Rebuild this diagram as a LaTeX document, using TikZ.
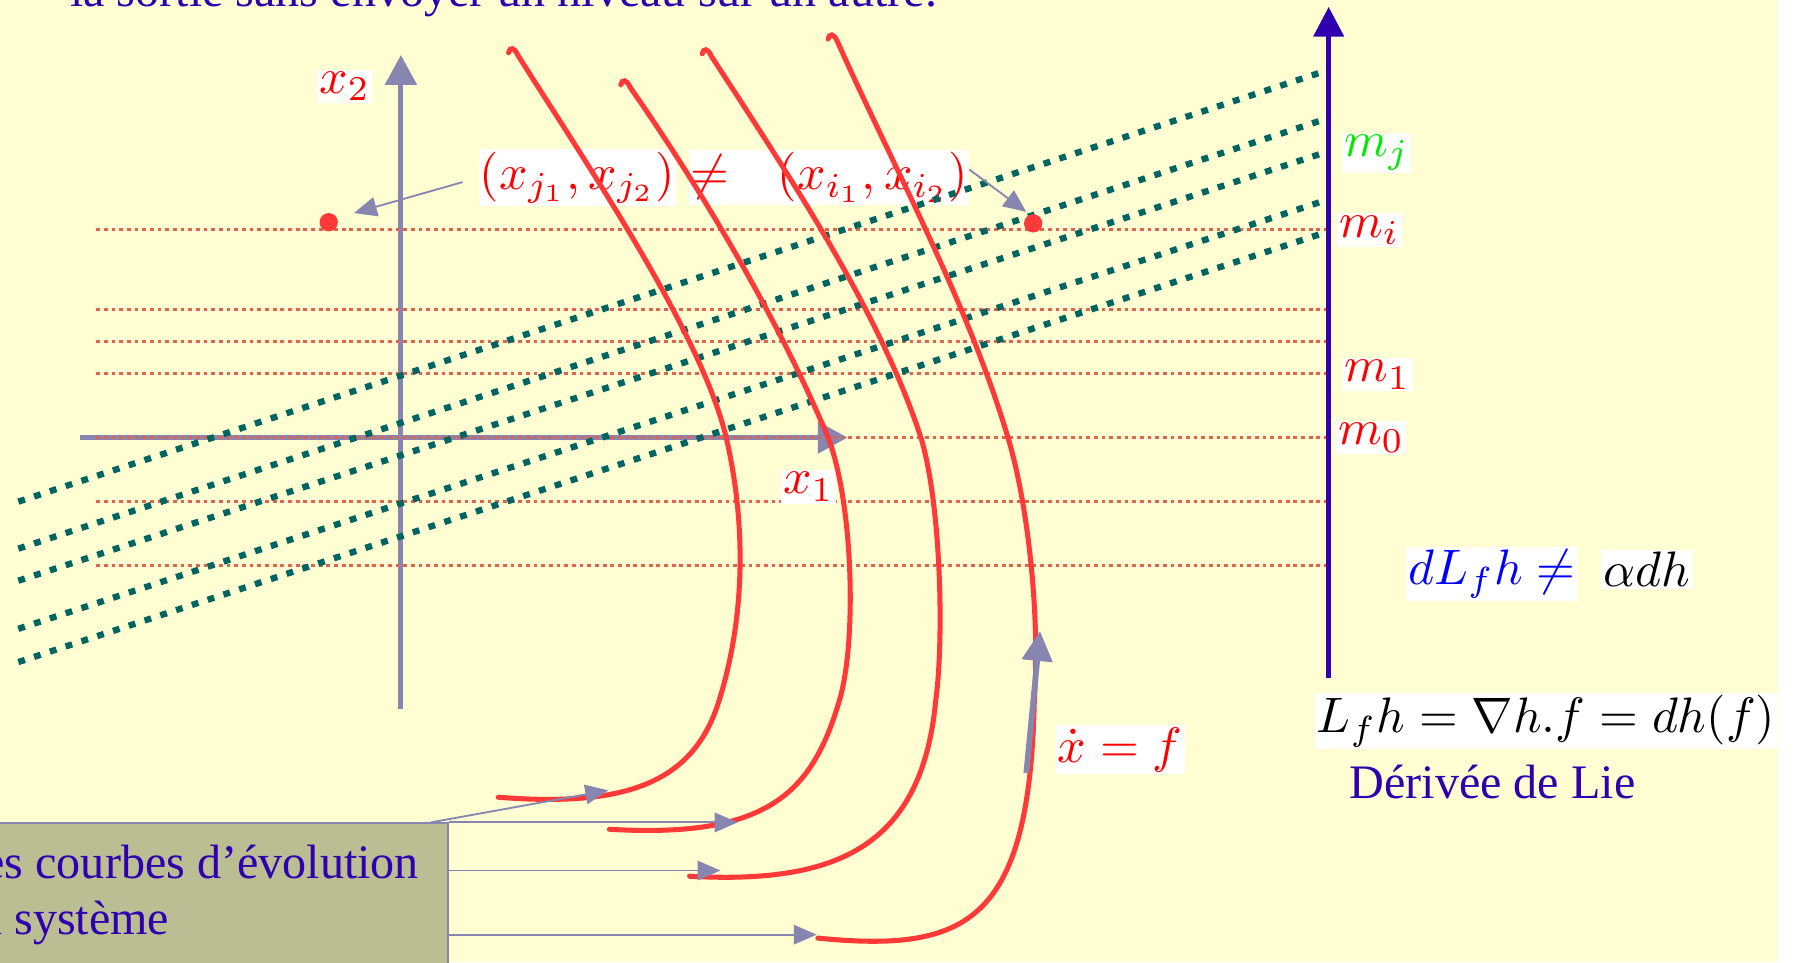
\documentclass[tikz,border=0pt]{standalone}
\usepackage[no-math]{fontspec}
\setmainfont{Liberation Serif}
\usepackage{graphicx}
\usetikzlibrary{arrows.meta}
\definecolor{bgyellow}{RGB}{254,254,210}
\definecolor{axisgray}{RGB}{134,134,176}
\definecolor{curvered}{RGB}{255,56,56}
\definecolor{dotred}{RGB}{226,98,80}
\definecolor{levelgreen}{RGB}{0,100,96}
\definecolor{indigo}{RGB}{46,0,176}
\definecolor{olivebox}{RGB}{187,189,146}
\definecolor{brightgreen}{RGB}{0,235,0}
\newcommand{\lmath}[1]{\scalebox{4.35}{$#1$}}
\newcommand{\myslidesize}{\fontsize{42}{50}\selectfont}
\tikzset{
  axisline/.style={draw=axisgray, line width=4.5pt, -{Triangle[length=26pt,width=27pt]}},
  levelline/.style={draw=dotred, line width=2.5pt, dash pattern=on 3.3pt off 3.4pt},
  slantline/.style={draw=levelgreen, line width=5.5pt, dash pattern=on 6pt off 8.5pt},
  traj/.style={draw=curvered, line width=4.4pt, line cap=round},
  lblarrow/.style={draw=axisgray, line width=1.6pt, -{Triangle[length=20pt,width=17pt]}},
  lbl/.style={fill=white, inner sep=2pt},
  slidetext/.style={text=indigo, font=\myslidesize, inner sep=0pt},
  reddot/.style={circle, fill=curvered, minimum size=16pt, inner sep=0pt},
}
\begin{document}
\begin{tikzpicture}[x=1pt,y=-1pt]
\useasboundingbox (0,0) rectangle (1568,840);
\clip (0,0) rectangle (1568,840);
\fill[white] (0,0) rectangle (1568,840);
\fill[bgyellow] (0,0) rectangle (1552,840);

% top text (clipped)
\node[slidetext, anchor=base west] (toptext) at (61,6) {la sortie sans envoyer un niveau sur un autre.};

% axes
\draw[axisline] (350,619) -- (350,48);
\draw[axisline] (70,382) -- (740,382);

% level lines
\foreach \yy in {200,270,298,326,382,438,494}
  \draw[levelline] (84,\yy) -- (1160,\yy);

% labels (white boxes)
\node[lbl, text=red] (lx2) at (301,75.5) {\lmath{x_2}};
\node[lbl, text=red] (lx1) at (706,425) {\lmath{x_1}};
\node[lbl, text=red, inner xsep=1pt] (xj) at (504,155) {\lmath{(x_{j_1},x_{j_2})}};
\node[lbl, text=red, inner xsep=1pt] (xi) at (724,155) {\lmath{\neq\hspace{0.7em}(x_{i_1},x_{i_2})}};

% slanted level lines
\draw[slantline] (16,438) -- (1160,61);
\draw[slantline] (16,479) -- (1160,103);
\draw[slantline] (16,507) -- (1160,132);
\draw[slantline] (16,549) -- (1160,174);
\draw[slantline] (16,578) -- (1160,202);

% trajectories
\draw[traj] (444,46) .. controls (445,41) and (449,41) .. (452,48)
  .. controls (512,143) and (612,290) .. (634,382)
  .. controls (652,460) and (650,540) .. (628,611)
  .. controls (606,683) and (548,705) .. (435,696);
\draw[traj] (542,74) .. controls (543,69) and (547,69) .. (550,76)
  .. controls (615,169) and (682,284) .. (723,382)
  .. controls (745,440) and (748,560) .. (733,611)
  .. controls (709,693) and (670,732) .. (532,724);
\draw[traj] (613,47) .. controls (614,42) and (618,42) .. (621,49)
  .. controls (690,155) and (768,272) .. (804,382)
  .. controls (822,442) and (824,560) .. (817,611)
  .. controls (805,740) and (730,772) .. (602,765);
\draw[traj] (723,34) .. controls (724,29) and (728,29) .. (731,36)
  .. controls (781,148) and (844,262) .. (880,382)
  .. controls (898,442) and (908,540) .. (903,611)
  .. controls (899,805) and (845,832) .. (714,819);

% points
\node[reddot] (pj) at (287,194) {};
\node[reddot] (pi) at (902,195) {};
\coordinate (tipj) at (309,186);
\coordinate (tipi) at (896,185);
\draw[lblarrow] ([xshift=-14pt,yshift=-4pt]xj.west) -- (tipj);
\draw[lblarrow] ([yshift=7pt]xi.east) -- (tipi);

% output axis
\draw[draw=indigo, line width=4.5pt, -{Triangle[length=26pt,width=26pt]}] (1160,592) -- (1160,6);
\node[lbl, text=brightgreen] (mj) at (1202,133.5) {\lmath{m_j}};
\node[lbl, text=red] (mi) at (1195.5,201) {\lmath{m_i}};
\node[lbl, text=red] (m1) at (1202.5,327) {\lmath{m_1}};
\node[lbl, text=red] (m0) at (1197,382) {\lmath{m_0}};

\node[lbl, text=blue] (dl) at (1302.5,501) {\lmath{dL_fh\neq}};
\node[lbl] (adh) at (1438,497) {\lmath{\alpha dh}};
\node[lbl, anchor=east] (lie) at (1552,629.5) {\lmath{L_fh=\nabla h.f=dh(f)}};
\node[slidetext, anchor=base west] (derivee) at (1178,697) {Dérivée de Lie};

% vector field
\node[lbl, text=red] (xdot) at (978,654.5) {\lmath{\dot{x}=f}};
\coordinate (vfbase) at (896,675);
\coordinate (vftip) at (908,551);
\draw[draw=axisgray, line width=5pt, -{Triangle[length=26pt,width=26pt]}] (vfbase) -- (vftip);

% evolution box
\node[draw=axisgray, fill=olivebox, line width=1.5pt, anchor=north east, minimum width=430pt, minimum height=140pt, inner sep=0pt] (evo) at (392,718) {};
\node[slidetext, anchor=base east] (evo1) at (366,767) {es courbes d’évolution};
\node[slidetext, anchor=base east] (evo2) at (148,816) {u système};
\coordinate (t1) at (531,690);
\coordinate (t2) at (644,718);
\coordinate (t3) at (629,760);
\coordinate (t4) at (713,816);
\draw[lblarrow] ([xshift=-16pt]evo.north east) -- (t1);
\draw[lblarrow] (evo.north east) -- (t2);
\draw[lblarrow] ([yshift=-42pt]evo.north east) -- (t3);
\draw[lblarrow] ([yshift=-98pt]evo.north east) -- (t4);
\end{tikzpicture}
\end{document}
